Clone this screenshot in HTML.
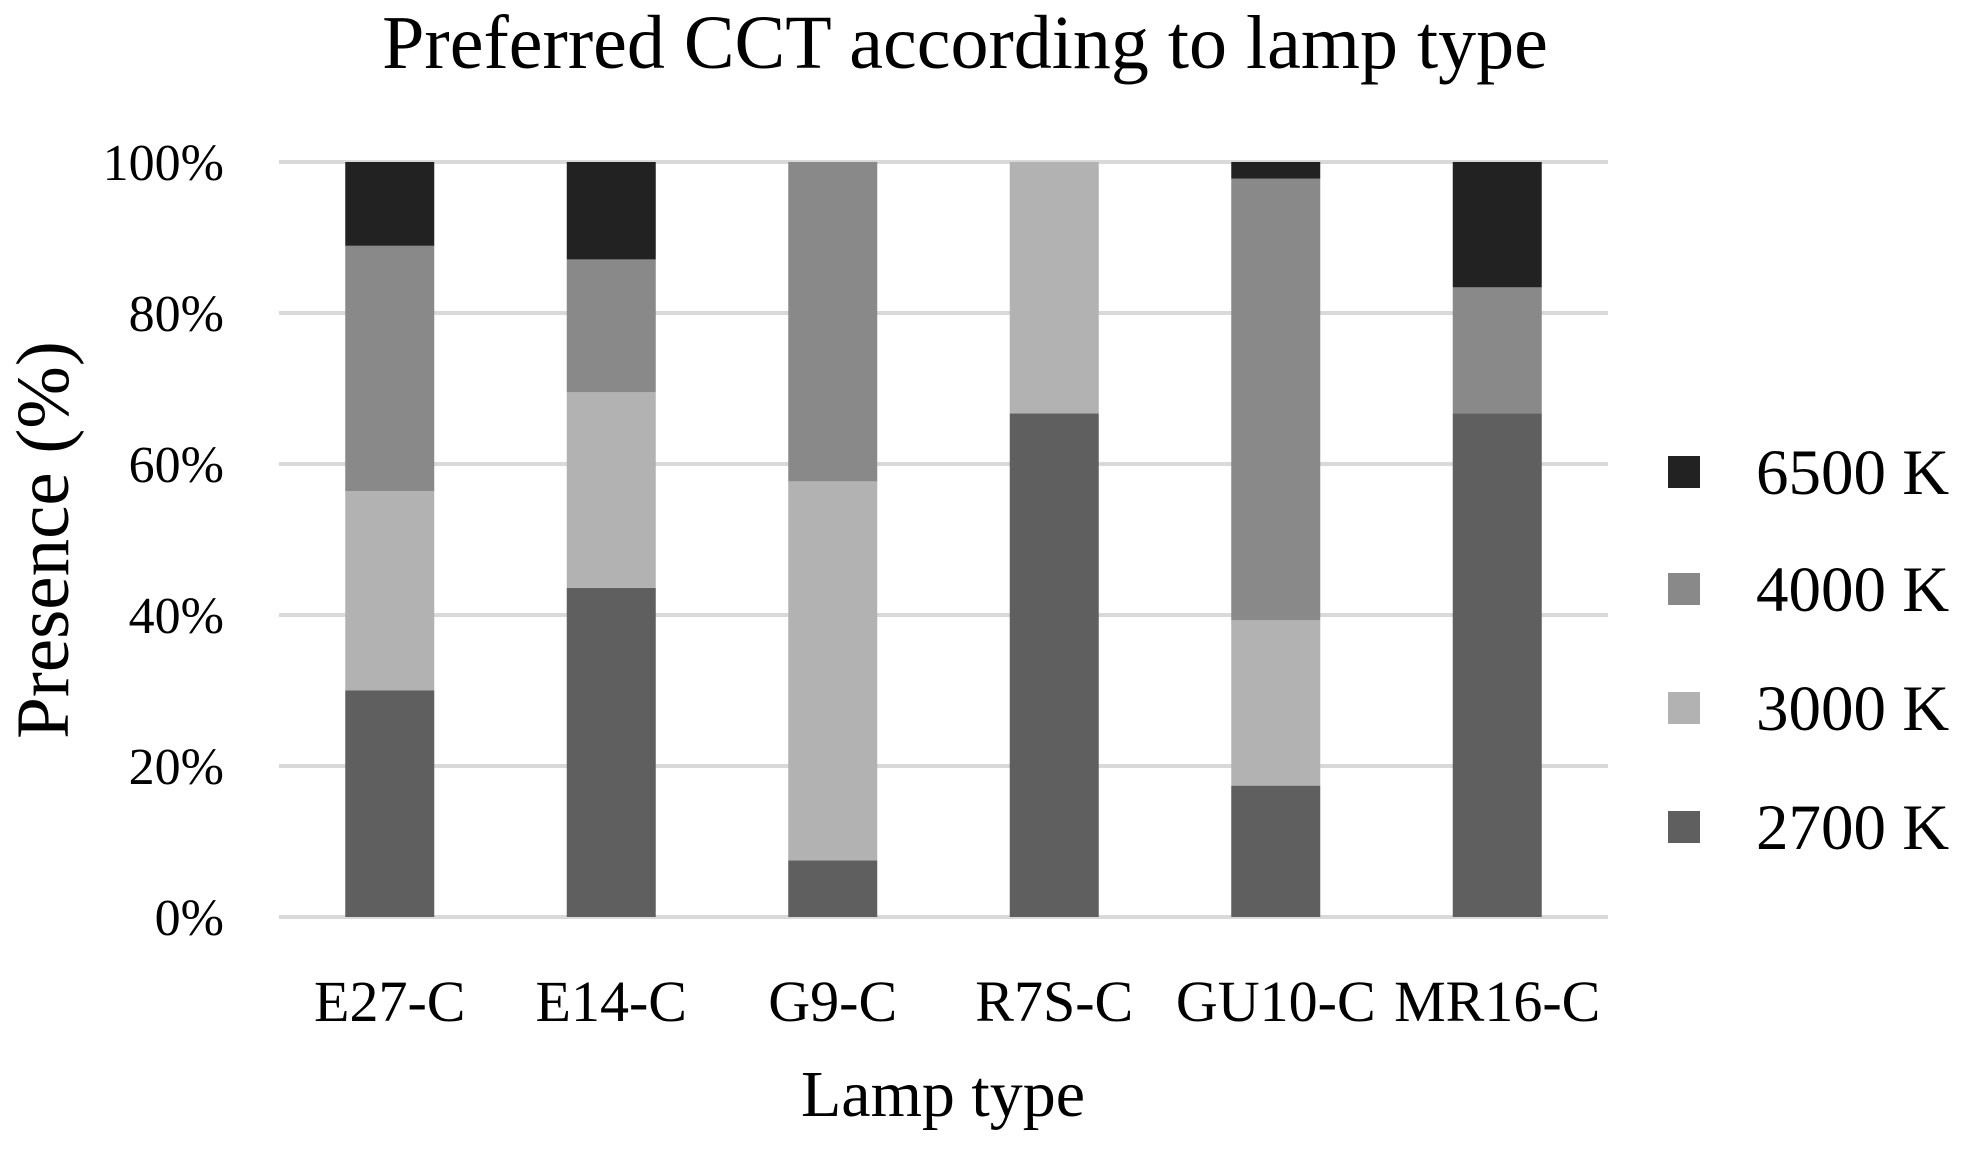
<!DOCTYPE html>
<html><head><meta charset="utf-8"><style>
body{margin:0;background:#fff}
svg{display:block}
text{font-family:"Liberation Serif",serif;fill:#000}
</style></head><body>
<svg id="chart" width="1965" height="1152">
<text x="965" y="68" font-size="76" text-anchor="middle">Preferred CCT according to lamp type</text>
<text transform="translate(68,540) rotate(-90)" font-size="75" text-anchor="middle">Presence (%)</text>
<text x="943" y="1116" font-size="66" text-anchor="middle">Lamp type</text>
<g id="grid"></g><g id="bars"></g><g id="xlabels"></g><g id="legend"></g>
</svg>
<script>
const categories=["E27-C","E14-C","G9-C","R7S-C","GU10-C","MR16-C"];
const seriesNames=["2700 K","3000 K","4000 K","6500 K"];
const s2700=[30,43.6,7.5,66.7,17.4,66.7];
const s3000=[26.4,25.9,50.2,33.3,21.9,0];
const s4000=[32.5,17.6,42.3,0,58.5,16.7];
const s6500=[11.1,12.9,0,0,2.2,16.6];
const yTicks=[0,20,40,60,80,100];
const tickLabels=["0%","20%","40%","60%","80%","100%"];
const colors=["#5f5f5f","#b2b2b2","#898989","#222222"];
const NS="http://www.w3.org/2000/svg";
const x0=279,x1=1608,yTop=162,yBot=917;
const band=(x1-x0)/categories.length,bw=89;
function y(v){return yBot-(yBot-yTop)*v/100;}
function xc(i){return x0+band*(i+0.5);}
function mk(t,a,p){const e=document.createElementNS(NS,t);for(const k in a)e.setAttribute(k,a[k]);p.appendChild(e);return e;}
const grid=document.getElementById('grid');
yTicks.forEach((v,i)=>{
 const l=mk('line',{x1:x0,x2:x1,y1:y(v),y2:y(v),stroke:'#d9d9d9','stroke-width':4},grid);
 
 
 const t=mk('text',{x:224,y:y(v)+18,'font-size':52,'text-anchor':'end'},grid);
 t.textContent=tickLabels[i];
 
 
});
const bars=document.getElementById('bars');
const series=[s2700,s3000,s4000,s6500];
categories.forEach((c,i)=>{
 let acc=0;
 series.forEach((s,j)=>{
  const v=s[i];if(v<=0)return;
  const r=mk('rect',{x:xc(i)-bw/2,y:y(acc+v),width:bw,height:y(acc)-y(acc+v),fill:colors[j]},bars);
  
  
  acc+=v;
 });
 const t=mk('text',{x:xc(i),y:1021,'font-size':58,'text-anchor':'middle'},document.getElementById('xlabels'));
 t.textContent=c;
 
 
});
const leg=document.getElementById('legend');
const ly=[827,708,589,472];
seriesNames.forEach((n,j)=>{
 const r=mk('rect',{x:1668,y:ly[j]-16,width:32,height:32,fill:colors[j]},leg);
 
 
 const t=mk('text',{x:1756,y:ly[j]+22,'font-size':65},leg);
 t.textContent=n;
 
 
});
</script>
</body></html>
